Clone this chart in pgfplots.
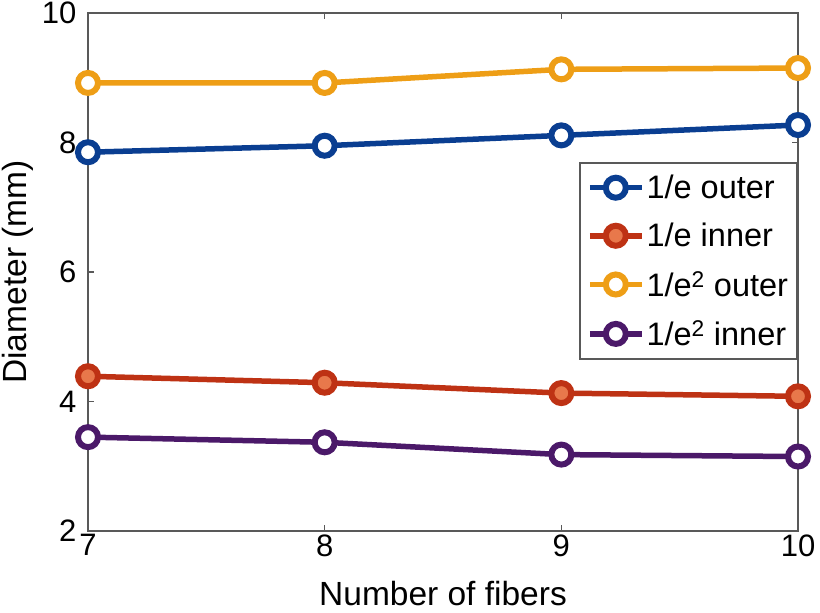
\documentclass[border=0pt]{standalone}
\usepackage{pgfplots}
\pgfplotsset{compat=1.18}
\usepackage{fontspec}
\setmainfont{Liberation Sans}
\definecolor{cblue}{RGB}{10,62,145}
\definecolor{cred}{RGB}{190,50,20}
\definecolor{cfill}{RGB}{232,120,75}
\definecolor{cyel}{RGB}{238,158,22}
\definecolor{cpur}{RGB}{75,25,105}
\begin{document}
\begin{tikzpicture}
\begin{axis}[
  name=ax,
  width=710pt, height=518pt, scale only axis,
  xmin=7, xmax=10, ymin=2, ymax=10,
  xtick={7,8,9,10}, ytick={2,4,6,8,10},
  axis line style={draw=black!65, line width=2pt},
  tick style={draw=black!65, line width=1.5pt},
  major tick length=6pt,
  /pgf/number format/assume math mode=true,
  tick label style={font=\fontsize{31}{33}\selectfont},
  yticklabel style={xshift=-8pt},
  label style={font=\fontsize{33.5}{35}\selectfont},
  xlabel={Number of fibers}, ylabel={Diameter (mm)},
  xlabel style={at={(axis description cs:0.5,-0.12)}, anchor=center},
  ylabel style={at={(axis description cs:-0.0986,0.5)}, anchor=center},
  legend style={at={(rel axis cs:1,0.712)}, anchor=north east,
    font=\fontsize{32.5}{34}\selectfont, draw=black!65, line width=2pt,
    row sep=19pt, inner xsep=7pt, inner ysep=10pt},
  legend cell align=left,
  legend image code/.code={\draw[mark repeat=2,mark phase=2] plot coordinates {(0pt,0pt) (26pt,0pt) (52pt,0pt)};},
  clip=false,
]
\addplot[cblue, line width=5.5pt, mark=*, mark size=10pt, mark options={fill=white, line width=6pt}]
 coordinates {(7,7.85) (8,7.95) (9,8.11) (10,8.27)};
\addlegendentry{1/e outer}
\addplot[cred, line width=5.5pt, mark=*, mark size=10pt, mark options={fill=cfill, line width=6pt}]
 coordinates {(7,4.39) (8,4.29) (9,4.13) (10,4.08)};
\addlegendentry{1/e inner}
\addplot[cyel, line width=5.5pt, mark=*, mark size=10pt, mark options={fill=white, line width=6pt}]
 coordinates {(7,8.92) (8,8.92) (9,9.13) (10,9.15)};
\addlegendentry{1/e\textsuperscript{2} outer}
\addplot[cpur, line width=5.5pt, mark=*, mark size=10pt, mark options={fill=white, line width=6pt}]
 coordinates {(7,3.45) (8,3.37) (9,3.18) (10,3.15)};
\addlegendentry{1/e\textsuperscript{2} inner}
\end{axis}
\pgfresetboundingbox
\path[use as bounding box] ([shift={(-88pt,-81pt)}]ax.south west) rectangle ([shift={(22pt,13pt)}]ax.north east);
\end{tikzpicture}
\end{document}
